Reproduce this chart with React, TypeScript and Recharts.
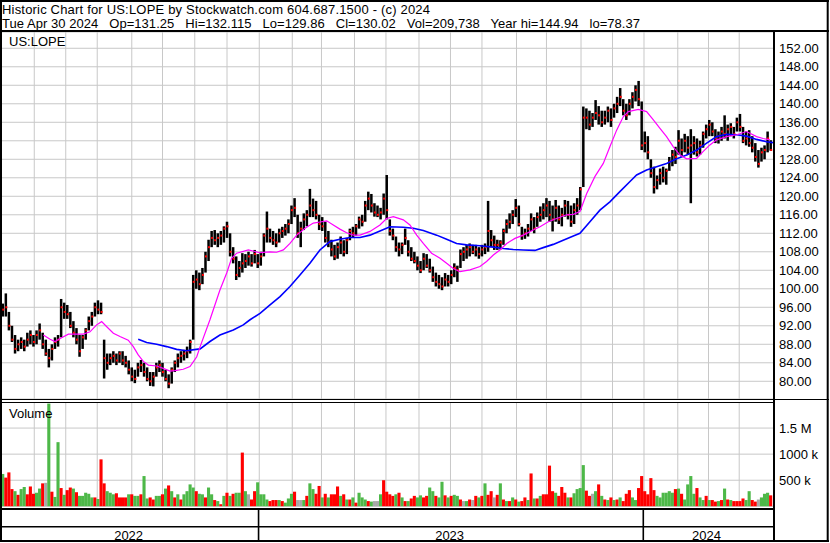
import React from 'react';
import { ComposedChart, Bar, Line, XAxis, YAxis, CartesianGrid } from 'recharts';

const FONT = '"Liberation Sans", Arial, Helvetica, sans-serif';
const GREEN = '#4db848';
const RED = '#ff0000';
const GRAY = '#a8a8a8';
const GRID = '#c8c8c8';

// ---- price bars (one bar = two trading days), high / low / close ----
const HI = [
  96.8, 99, 95, 92, 90, 89, 89.5, 89, 90.5, 91,
  90, 91, 92.5, 90.5, 89, 87, 88, 89.5, 90, 97.8,
  97, 96.5, 95, 93, 91.5, 90, 90, 91.5, 94, 95,
  97, 97.5, 97, 89, 86, 86, 86.5, 86, 86.5, 86.5,
  85.5, 84.5, 83, 82.5, 84, 84.6, 84, 83, 82, 82,
  84, 84.5, 84, 82.5, 81.5, 83, 84.5, 86, 86.5, 86.8,
  87.5, 89, 103, 104, 103.5, 104.5, 108, 110.6, 112.5, 112.7,
  112, 112.5, 113.5, 114.5, 112, 109, 107, 106, 107.7, 107.5,
  108, 107.5, 108.4, 107.5, 108, 112, 116.7, 113, 112.5, 112,
  113, 113.4, 114, 115, 118, 119.6, 116, 114.5, 116.3, 117,
  121.6, 119.5, 119, 116, 115.5, 114.5, 112.5, 110.6, 109.5, 110,
  111.3, 110.5, 111, 113, 113.4, 114, 115.6, 116, 119, 121,
  120.5, 118.5, 118, 117.5, 120.6, 124.6, 115, 113, 111.3, 110,
  110, 113, 110.5, 109, 108, 107, 106, 107.7, 107.5, 106.5,
  104.8, 103.5, 103, 102.5, 103.4, 103, 104, 105.5, 105, 108.5,
  109, 109.5, 109.8, 109.5, 109.5, 109, 109.5, 109.8, 119, 112.7,
  111.5, 110.6, 110.5, 113, 115, 116.3, 117, 119.4, 118, 113.4,
  113, 114, 116.3, 115.5, 116.5, 117.8, 118.5, 119.6, 119, 118,
  119.2, 118, 117.5, 119.2, 119, 118, 118.5, 119.6, 122, 139.4,
  139, 138.5, 138, 140.8, 139.5, 138.5, 138.5, 139.4, 139, 140,
  141.5, 143.4, 141, 140, 141, 142.5, 144, 144.94, 140.5, 134,
  133, 128, 126.4, 124.5, 126, 126.4, 126, 128.5, 130, 130.7,
  134.3, 132.5, 133.5, 133, 134.5, 133, 132.5, 132, 134, 135.5,
  136.5, 136, 134.5, 134, 135, 137.5, 135.5, 135.8, 135, 137,
  137.8, 135, 134, 134.3, 133, 131.5, 130, 130.5, 131, 134,
  132.115,
];
const LO = [
  94, 94, 91, 88.5, 86, 86.5, 87, 86.5, 87.5, 88,
  87.5, 88, 89, 87, 85.5, 83, 84.5, 87, 87.5, 89.5,
  93.5, 93.5, 91.5, 89.5, 88, 85.3, 87, 89, 91, 92,
  94, 94.5, 94.5, 80.6, 82.5, 83.5, 84, 83.5, 84, 83.5,
  83, 81.5, 80, 79.6, 81, 82, 81, 80, 79, 78.9,
  81, 82, 81, 80, 78.5, 79.5, 82, 83, 84, 84.5,
  85, 86, 89, 100, 99.7, 101, 103.5, 106, 109, 109.5,
  109, 109.5, 110, 111, 107, 105.5, 101.9, 102.5, 103.5, 104.5,
  105, 104.8, 105.5, 104.5, 105, 107, 110, 110, 109.5, 109,
  110, 111, 111.5, 112, 114, 115.5, 111, 109, 112.7, 113.5,
  115.5, 115.5, 115, 112.7, 112.5, 110, 109, 107, 106.2, 106.5,
  107.5, 107, 107.5, 110.5, 111, 111.5, 113, 113.5, 114.5, 117,
  116.5, 115.6, 115.5, 115, 116, 115, 111.5, 110.5, 108, 107,
  107.5, 109.5, 107, 106, 105.5, 104, 103.4, 104, 104.5, 103.5,
  101.5, 100.5, 100, 99.7, 100.5, 100.5, 101, 102.5, 101.5, 104.5,
  106, 106.5, 107, 107.5, 107, 106.5, 107, 107.5, 108, 109,
  108.4, 108.4, 108.5, 109.5, 112, 113, 114, 115.5, 113.5, 110.6,
  110.8, 111.3, 112.5, 112, 113.4, 114.5, 115, 115.5, 114.5, 112.4,
  114.5, 114, 113.5, 115.6, 115, 113.4, 114, 116, 117, 122,
  134.5, 134.3, 135, 136.5, 135.5, 135, 135.5, 136, 135, 137,
  138, 139.5, 137.5, 136.5, 137.5, 139, 140.5, 139.5, 130, 129.5,
  128, 124, 120.6, 121.5, 122.5, 123, 122.5, 125.5, 126.5, 127,
  129, 128.6, 129.5, 129, 118.5, 129, 128.6, 129, 130.5, 132.5,
  133, 133, 131.5, 131.4, 132, 132.5, 132, 133, 132.5, 134,
  134, 131.5, 131, 130.7, 129.5, 127.5, 126.2, 127.5, 128, 129.5,
  129.86,
];
const CL = [
  95.5, 96, 92, 89, 87, 88, 88.5, 87.5, 89, 90,
  88.5, 90, 91, 88, 86, 85, 87, 88.5, 89, 96,
  95, 94.5, 92, 90.5, 89, 86.5, 89.5, 91, 93, 94,
  96, 95.5, 95, 85, 84, 85, 85.5, 84.5, 86, 84.5,
  84, 82.5, 81, 80.5, 83, 83.5, 82, 80.5, 80, 81,
  83, 83.5, 82, 80.5, 79.5, 82.5, 84, 85, 85.5, 86,
  86.5, 88.5, 101.5, 102, 101, 103, 107, 109, 111, 110.5,
  111, 111.5, 113, 113.5, 108, 106.5, 103, 104.5, 105.5, 106,
  107, 105.5, 107.5, 105.5, 107, 111.5, 113, 111, 110.5, 110,
  112, 112.5, 113, 114, 117, 117.5, 112, 113, 115, 116,
  118, 117, 116, 114, 113.5, 111, 110, 108.5, 107, 109,
  110, 108, 110.5, 112.5, 112, 113.5, 115, 114.5, 118, 119.5,
  118, 116.5, 116, 116.5, 119.5, 117, 112.5, 111.5, 109, 108.5,
  109.5, 111, 108, 106.5, 106, 105, 104, 106.5, 105, 104,
  102.5, 101.5, 101, 100.5, 102, 101.5, 103, 104.5, 104, 107.5,
  108, 108.5, 109, 108, 108.5, 107.5, 108.5, 109, 112.5, 110.5,
  109.5, 109.5, 110, 112.5, 114, 114.5, 116, 117.5, 114, 111.5,
  112, 113, 115, 113, 115.5, 116, 117, 118, 116, 115,
  117.5, 115, 116, 118, 116, 114.5, 117, 118, 121.5, 137,
  137, 135.5, 137, 138, 137.5, 136, 137, 138.5, 136.5, 139,
  140, 141.5, 138.5, 137.5, 140, 141.5, 143, 141, 131, 131.5,
  129.5, 125, 122, 123.5, 125, 124, 125.5, 127.5, 129, 128.5,
  132, 130, 132, 130.5, 131, 131.5, 129.5, 131, 133.5, 134.5,
  135.5, 134, 132.5, 133, 134, 133.5, 134.5, 135, 133.5, 136,
  135, 132, 132.5, 131.5, 130.5, 128.5, 127, 129.5, 130, 132.5,
  130.02,
];

// ---- volume (millions of shares) and direction g = up, r = down, n = unchanged ----
const VOL = [
  0.62, 0.55, 0.65, 0.33, 0.29, 0.22, 0.33, 0.37, 0.23, 0.38,
  0.24, 0.26, 0.34, 0.44, 0.45, 1.97, 0.28, 0.18, 1.23, 0.35,
  0.22, 0.31, 0.36, 0.34, 0.27, 0.20, 0.20, 0.26, 0.24, 0.17,
  0.17, 0.14, 0.90, 0.44, 0.29, 0.26, 0.23, 0.25, 0.17, 0.17,
  0.17, 0.23, 0.23, 0.20, 0.20, 0.23, 0.58, 0.15, 0.17, 0.13,
  0.20, 0.20, 0.23, 0.34, 0.40, 0.29, 0.17, 0.23, 0.13, 0.23,
  0.29, 0.42, 0.36, 0.29, 0.24, 0.23, 0.17, 0.36, 0.23, 0.12,
  0.10, 0.04, 0.20, 0.26, 0.20, 0.24, 0.26, 0.26, 1.03, 0.29,
  0.23, 0.13, 0.29, 0.46, 0.23, 0.23, 0.13, 0.10, 0.12, 0.12,
  0.12, 0.10, 0.07, 0.15, 0.24, 0.28, 0.12, 0.12, 0.12, 0.20,
  0.44, 0.33, 0.24, 0.39, 0.17, 0.24, 0.17, 0.23, 0.23, 0.38,
  0.20, 0.23, 0.13, 0.13, 0.17, 0.07, 0.26, 0.17, 0.13, 0.10,
  0.09, 0.10, 0.10, 0.23, 0.50, 0.28, 0.23, 0.20, 0.23, 0.26,
  0.17, 0.10, 0.10, 0.15, 0.20, 0.17, 0.21, 0.17, 0.20, 0.36,
  0.29, 0.20, 0.17, 0.47, 0.21, 0.17, 0.20, 0.22, 0.20, 0.13,
  0.10, 0.10, 0.13, 0.12, 0.20, 0.17, 0.20, 0.44, 0.22, 0.29,
  0.17, 0.22, 0.44, 0.13, 0.10, 0.10, 0.17, 0.13, 0.09, 0.10,
  0.17, 0.12, 0.63, 0.15, 0.15, 0.20, 0.23, 0.23, 0.78, 0.29,
  0.26, 0.20, 0.37, 0.26, 0.17, 0.17, 0.25, 0.33, 0.35, 0.79,
  0.30, 0.20, 0.24, 0.29, 0.42, 0.20, 0.13, 0.12, 0.17, 0.12,
  0.13, 0.17, 0.10, 0.24, 0.31, 0.17, 0.12, 0.35, 0.58, 0.29,
  0.23, 0.54, 0.31, 0.20, 0.17, 0.26, 0.26, 0.29, 0.26, 0.33,
  0.34, 0.24, 0.13, 0.42, 0.58, 0.24, 0.35, 0.17, 0.12, 0.20,
  0.12, 0.12, 0.09, 0.10, 0.12, 0.34, 0.13, 0.12, 0.10, 0.10,
  0.10, 0.15, 0.12, 0.29, 0.12, 0.09, 0.13, 0.17, 0.24, 0.26,
  0.21,
];
const VOL_DIR = (
  'grrrgrggrr rggrngrggr grrgrggggg rgrrgggrrr rgrggrggrr ' +
  'ggrgrgrgrg gggrggrggr grgrgrggrg nrrggggrrr grgggrnngr ' +
  'ggrrgrgrrr grgrgrgggr gnngrrrrgr grgrrggrrg grggrgrggr ' +
  'ngrnrgrgrr nrgrgrgrgr rgrgrgrrrr grrrgrgggg rrngrgrgrg ' +
  'rgrrrggrrr rrrggggggr grggggrggr grrgrgrgrr rrggrrnggg r'
).replace(/ /g, '').split('');

// ---- moving averages: [trading day, price] ----
const MA_FAST = [
  [26.9, 90.0], [31.3, 89.1], [34.5, 88.6], [38.8, 89.4], [43.2, 90.2], [52.9, 90.2], [57.3, 90.7],
  [61.6, 92.2], [64.9, 92.9], [68.2, 91.8], [72.5, 90.4], [76.8, 89.7], [82.2, 88.9], [85.5, 87.5],
  [88.7, 85.7], [92, 84.3], [95.3, 83.5], [100.7, 83.3], [105, 82.8], [109.4, 82.2], [112.6, 82.3],
  [118, 82.6], [122.4, 83.2], [126.8, 85.3], [129, 87.5], [135.4, 93.3], [141.9, 99.75], [146.3, 103.4],
  [149.5, 106.6], [152.8, 107.7], [160.4, 108.4], [168, 107.8], [174.5, 108], [178.8, 107.9],
  [183.2, 108.4], [187.5, 109.8], [191.9, 111.6], [197.3, 113.1], [202.7, 114.2], [208.1, 114.5],
  [211.4, 114.7], [215.7, 113.8], [220, 112.9], [224.4, 112.1], [228.7, 111.6], [233.1, 111.6],
  [239.6, 112.4], [246.1, 113.8], [250.4, 115.2], [254.8, 115.6], [261.3, 114.9], [265.6, 113.8],
  [270, 111.6], [274.3, 109.8], [279.7, 107.7], [285.2, 106.6], [289.5, 105.5], [293.8, 104.4],
  [298.2, 103.7], [304.7, 104.1], [311.2, 104.8], [315.5, 105.9], [319.9, 107.3], [324.2, 108.4],
  [328.6, 109.8], [334, 110.9], [339.4, 111.6], [345.9, 112.7], [350.3, 113.4], [355.7, 114.5],
  [361.1, 115.2], [367.6, 116], [372, 116.1], [376.3, 116.7], [380.7, 120.6], [386.1, 124.3],
  [391.5, 127.1], [395.8, 130.7], [400.2, 134.3], [404.5, 137.2], [407.8, 138.3], [414.3, 138.8],
  [419.7, 138.3], [424.1, 136.5], [428.4, 134.7], [432.7, 132.9], [437.1, 130.7], [441.4, 128.9],
  [445.8, 128.1], [452.3, 128.2], [456.6, 129.7], [460.9, 131.1], [465.3, 132.2], [471.8, 132.9],
  [478.3, 133.3], [484.8, 134], [491.3, 132.9], [495.6, 132.5], [500, 132.2],
];
const MA_SLOW = [
  [88.7, 89.1], [94.2, 88.4], [100.7, 88.0], [107.2, 87.5], [113.7, 86.9], [120.2, 86.6], [124, 86.8],
  [129, 87.0], [135.4, 88.6], [141.9, 90.0], [150.6, 91.1], [157.1, 92.2], [161.5, 93.3], [168, 94.7],
  [174.5, 96.5], [181, 98.3], [187.5, 100.5], [194, 103.0], [200.5, 105.5], [207, 108.4],
  [213.5, 110.2], [220, 110.7], [226.6, 111.1], [233.1, 111.1], [239.6, 111.6], [246.1, 112.5],
  [252.6, 113.4], [261.3, 113.3], [267.8, 113.1], [274.3, 112.6], [283, 111.6], [289.5, 110.7],
  [296, 109.8], [302.5, 109.5], [311.2, 109.3], [319.9, 109.0], [326.4, 108.7], [332.9, 108.5],
  [339.4, 108.4], [347, 108.3], [352.4, 108.9], [358.9, 109.6], [365.4, 110.5], [372, 111.4],
  [376.3, 112.0], [382.8, 114.5], [389.3, 117.0], [395.8, 118.8], [402.3, 121.0], [408.9, 123.2],
  [413.2, 124.6], [419.7, 125.7], [426.2, 126.4], [432.7, 127.1], [439.3, 128.1], [445.8, 128.9],
  [452.3, 130.0], [458.8, 131.5], [465.3, 132.9], [471.8, 133.4], [478.3, 133.3], [484.8, 133.0],
  [491.3, 132.3], [497.8, 131.8], [502, 131.6],
];

// ---- axes ----
const MONTH_STARTS = [21, 41.5, 62, 84.5, 104.5, 125.5, 146.5, 167.5, 189, 208, 229.5, 250, 271.5, 292,
  312.5, 335, 354.5, 377, 397.5, 418, 440, 460, 480];
const YEAR_STARTS = [0, 167.5, 418];
const YEAR_LABELS = ['2022', '2023', '2024'];
const LAST_DAY = 502;
const PRICE_TICKS = [80, 84, 88, 92, 96, 100, 104, 108, 112, 116, 120, 124, 128, 132, 136, 140, 144, 148, 152];
const PRICE_DOMAIN = [76.17, 155.52];
const VOL_TICKS = [0.5, 1, 1.5];
const VOL_TICK_LABELS = ['500 k', '1000 k', '1.5 M'];
const VOL_DOMAIN = [0, 2.0];

const HEADER_1 = 'Historic Chart for US:LOPE by Stockwatch.com 604.687.1500 - (c) 2024';
const HEADER_2 = 'Tue Apr 30 2024   Op=131.25   Hi=132.115   Lo=129.86   Cl=130.02   Vol=209,738   Year hi=144.94   lo=78.37';
const SYMBOL = 'US:LOPE';
const VOL_TITLE = 'Volume';

// ---- derived tables ----
const priceData = HI.map((h, i) => ({ d: 2 * i + 0.5, range: [LO[i], h], hi: h, lo: LO[i], cl: CL[i] }));
const volData = VOL.map((v, i) => ({ d: 2 * i + 0.5, v, dir: VOL_DIR[i] }));
const fastData = MA_FAST.map(([d, v]) => ({ d, v }));
const slowData = MA_SLOW.map(([d, v]) => ({ d, v }));
const YEAR_MIDS = YEAR_STARTS.map((s, k) => (s + (k + 1 < YEAR_STARTS.length ? YEAR_STARTS[k + 1] : LAST_DAY)) / 2);
const YEAR_TICKS = [...YEAR_MIDS, ...YEAR_STARTS.slice(1)].sort((a, b) => a - b);

const PriceBarShape = (props: any) => {
  const { x, y, width, height, payload } = props;
  if (x == null || y == null || !payload) return null;
  const cx = x + width / 2;
  const span = payload.hi - payload.lo;
  const cy = span > 0 ? y + (height * (payload.hi - payload.cl)) / span : y;
  return (
    <g>
      <rect x={cx - 1.25} y={y} width={2.5} height={Math.max(height, 1)} fill="#000" />
      <rect x={cx - 0.5} y={cy - 1} width={2} height={2} fill={RED} />
    </g>
  );
};

const VolShape = (props: any) => {
  const { x, y, width, height, payload } = props;
  if (x == null || y == null || !payload) return null;
  const cx = x + width / 2;
  const fill = payload.dir === 'g' ? GREEN : payload.dir === 'r' ? RED : GRAY;
  return <rect x={cx - 1.55} y={y} width={3.1} height={Math.max(height, 0) + 1.7} fill={fill} />;
};

const NoTick = () => null;

const YearTick = (props: any) => {
  const { x, y, payload } = props;
  const v = payload && payload.value;
  const bi = YEAR_STARTS.indexOf(v);
  if (bi > 0) return <rect x={x - 1.5} y={y + 3.7} width={1.6} height={31} fill="#000" />;
  const mi = YEAR_MIDS.indexOf(v);
  if (mi >= 0)
    return (
      <text x={x - 2} y={y + 33.5} textAnchor="middle" fontSize={13} fontFamily={FONT} fill="#000">
        {YEAR_LABELS[mi]}
      </text>
    );
  return null;
};

const tickStyle = { fill: '#000', fontSize: 13, fontFamily: FONT };

export default function App() {
  return (
    <div style={{ position: 'absolute', left: 0, top: 0, width: 830, height: 543, background: '#fff', overflow: 'hidden' }}>
      <div style={{ position: 'absolute', left: 0, top: 32 }}>
        <ComposedChart width={829} height={367} data={priceData} margin={{ top: 0, right: 0, bottom: 0, left: 2 }}>
          <CartesianGrid stroke={GRID} strokeWidth={1} verticalValues={MONTH_STARTS} />
          <XAxis type="number" dataKey="d" domain={[0, LAST_DAY]} ticks={MONTH_STARTS} height={0}
            tick={<NoTick />} tickLine={false} axisLine={false} allowDataOverflow interval={0} />
          <YAxis orientation="right" width={56} domain={PRICE_DOMAIN} ticks={PRICE_TICKS} allowDataOverflow
            interval={0} tickFormatter={(v: number) => v.toFixed(2)} tickLine={false} axisLine={false}
            tickSize={0} tickMargin={6} tick={tickStyle} />
          <Bar dataKey="range" barSize={3} shape={<PriceBarShape />} isAnimationActive={false} />
          <Line data={slowData} dataKey="v" type="linear" stroke="#0000ff" strokeWidth={1.6} dot={false}
            activeDot={false} isAnimationActive={false} />
          <Line data={fastData} dataKey="v" type="linear" stroke="#ff00ff" strokeWidth={1.2} dot={false}
            activeDot={false} isAnimationActive={false} />
        </ComposedChart>
      </div>
      <div style={{ position: 'absolute', left: 0, top: 402 }}>
        <ComposedChart width={829} height={140} data={volData} margin={{ top: 0, right: 0, bottom: 0, left: 2 }}>
          <CartesianGrid stroke={GRID} strokeWidth={1} xAxisId="grid" verticalValues={MONTH_STARTS} />
          <XAxis xAxisId="grid" type="number" dataKey="d" domain={[0, LAST_DAY]} ticks={MONTH_STARTS} height={0}
            tick={<NoTick />} tickLine={false} axisLine={false} allowDataOverflow interval={0} />
          <XAxis xAxisId="years" type="number" dataKey="d" domain={[0, LAST_DAY]} ticks={YEAR_TICKS} height={35.7}
            tick={<YearTick />} tickLine={false} axisLine={false} tickSize={0} tickMargin={0} allowDataOverflow interval={0} />
          <YAxis orientation="right" width={56} domain={VOL_DOMAIN} ticks={VOL_TICKS} allowDataOverflow interval={0}
            tickFormatter={(v: number) => VOL_TICK_LABELS[VOL_TICKS.indexOf(v)] || ''} tickLine={false}
            axisLine={false} tickSize={0} tickMargin={6} tick={tickStyle} />
          <Bar xAxisId="grid" dataKey="v" barSize={3} shape={<VolShape />} isAnimationActive={false} />
        </ComposedChart>
      </div>
      <svg width={830} height={543} style={{ position: 'absolute', left: 0, top: 0, pointerEvents: 'none' }}>
        <text x={2} y={14} fontSize={13} fontFamily={FONT} fill="#000" textLength={428} lengthAdjust="spacing">{HEADER_1}</text>
        <text x={2} y={28} fontSize={13} fontFamily={FONT} fill="#000" style={{ whiteSpace: 'pre' }} textLength={638} lengthAdjust="spacing">{HEADER_2}</text>
        <text x={9} y={46} fontSize={13} fontFamily={FONT} fill="#000">{SYMBOL}</text>
        <text x={9} y={418} fontSize={13} fontFamily={FONT} fill="#000">{VOL_TITLE}</text>
        <rect x={0} y={0} width={829} height={2} fill="#000" />
        <rect x={0} y={0} width={2} height={542} fill="#000" />
        <rect x={826.7} y={0} width={2} height={542} fill="#000" />
        <rect x={0} y={540} width={829} height={2} fill="#000" />
        <rect x={0} y={30} width={829} height={2} fill="#000" />
        <rect x={773} y={31} width={2} height={510} fill="#000" />
        <rect x={0} y={399} width={829} height={1} fill="#000" />
        <rect x={0} y={402} width={774} height={1} fill="#000" />
        <rect x={0} y={508} width={774} height={2} fill="#000" />
        <rect x={0} y={526} width={774} height={1.5} fill="#000" />
      </svg>
    </div>
  );
}
